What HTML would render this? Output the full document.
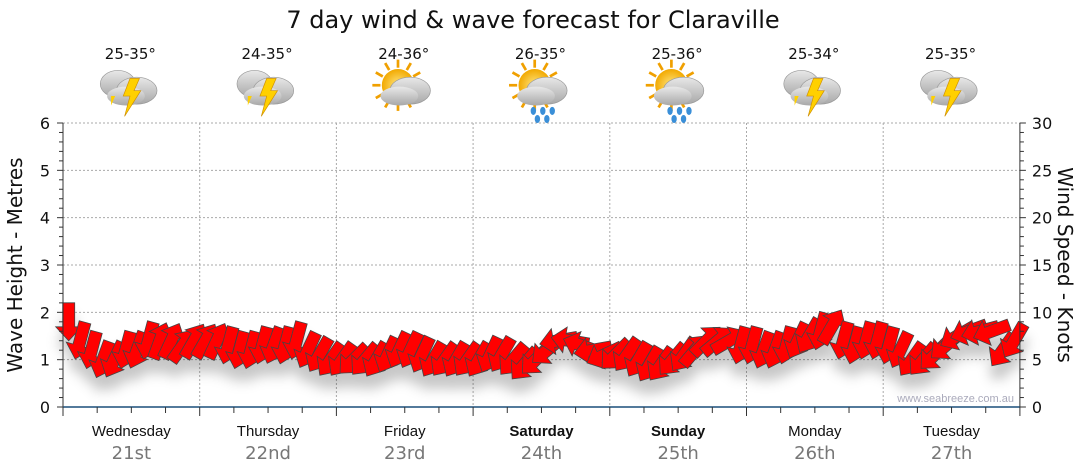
<!DOCTYPE html>
<html><head><meta charset="utf-8"><style>
html,body{margin:0;padding:0;background:#fff;}
svg{display:block;font-family:"DejaVu Sans","Liberation Sans",sans-serif;}
</style></head><body>
<svg id="chart" width="1080" height="475" viewBox="0 0 1080 475">
<defs>
<filter id="sh" x="-20%" y="-50%" width="140%" height="200%"><feDropShadow dx="0" dy="14" stdDeviation="6" flood-color="#000" flood-opacity="0.22"/></filter>
<radialGradient id="sun" cx="50%" cy="50%" r="50%"><stop offset="0" stop-color="#ffe680"/><stop offset="1" stop-color="#f2a900"/></radialGradient>
<linearGradient id="cloud" x1="0" y1="0" x2="0" y2="1"><stop offset="0" stop-color="#e8e8e8"/><stop offset="1" stop-color="#a8a8a8"/></linearGradient>
</defs>
<text x="533" y="28" text-anchor="middle" font-size="24" fill="#111">7 day wind &amp; wave forecast for Claraville</text>
<g id="grid"></g>
<g id="icons"></g>
<g id="arrows" filter="url(#sh)"></g>
<g id="axes"></g>
<text transform="translate(22,265) rotate(-90)" text-anchor="middle" font-size="20" fill="#111">Wave Height - Metres</text>
<text transform="translate(1058,265) rotate(90)" text-anchor="middle" font-size="20" fill="#111">Wind Speed - Knots</text>
<text x="1014" y="402" text-anchor="end" font-size="11" fill="#aab" font-family="Liberation Sans, sans-serif">www.seabreeze.com.au</text>
</svg>
<script>
const days = ["Wednesday","Thursday","Friday","Saturday","Sunday","Monday","Tuesday"];
const dates = ["21st","22nd","23rd","24th","25th","26th","27th"];
const temps = ["25-35°","24-35°","24-36°","26-35°","25-36°","25-34°","25-35°"];
const weather = ["storm","storm","sun","sunrain","sunrain","storm","storm"];
const waveTicks = [0,1,2,3,4,5,6];
const windTicks = [0,5,10,15,20,25,30];
const windSpeed = [9,7,6,5,5,6,6,7,7,7,6.5,7, 7,7,6.5,6,6,6.5,6.5,6.5,7,6,5.5,5, 5,5,5,5,5.5,6,6,5.5,5,5,5,5, 5,5.5,5.5,5,4.5,5,6,7,7,6.5,6,5.5, 5.5,5.5,5,4.5,4.5,5,5.5,6,7,7,7,6.5, 6.5,6,6,6.5,7,7.5,8,8.5,7,6.5,7,7, 6.5,6,5,5,5.5,6.5,7.5,8,8,8,6,7];
const windDir = [180,195,195,200,205,195,200,195,20,25,35,30, 30,25,195,195,195,195,200,195,195,205,210,215, 215,225,220,210,205,205,205,205,210,215,210,215, 210,205,210,220,220,225,230,260,280,290,260,245, 225,215,210,210,215,220,215,40,45,50,60,195, 195,200,200,195,205,210,195,30,195,195,195,195, 195,205,215,220,225,230,240,250,255,250,215,210];
const NS="http://www.w3.org/2000/svg";
const X0=63, DW=136.7, Y0=407, Y6=123;
const xDay=d=>X0+d*DW;
const xHour=h=>X0+h/24*DW;
const yWave=v=>Y0-(Y0-Y6)*v/6;
const yWind=v=>Y0-(Y0-Y6)*v/30;
function mk(tag,attrs,parent,txt){const e=document.createElementNS(NS,tag);for(const k in attrs)e.setAttribute(k,attrs[k]);if(txt!==undefined)e.textContent=txt;parent.appendChild(e);return e;}
const grid=document.getElementById('grid'),axes=document.getElementById('axes'),icons=document.getElementById('icons'),arrows=document.getElementById('arrows');
const X1=xDay(7);
waveTicks.forEach(v=>{if(v>0){const l=mk('line',{x1:X0,x2:X1,y1:yWave(v),y2:yWave(v),stroke:'#aaa','stroke-dasharray':'2,2','stroke-width':1},grid);

}
const t=mk('text',{x:X0-13,y:yWave(v)+6,'text-anchor':'end','font-size':16,fill:'#111'},axes,String(v));

});
windTicks.forEach(v=>{const t=mk('text',{x:X1+12,y:yWind(v)+6,'font-size':16,fill:'#111'},axes,String(v));

});
for(let d=1;d<7;d++){const l=mk('line',{x1:xDay(d),x2:xDay(d),y1:Y6,y2:Y0,stroke:'#aaa','stroke-dasharray':'2,2'},grid);

}
mk('line',{x1:X0,x2:X0,y1:Y6,y2:Y0,stroke:'#333'},axes);
mk('line',{x1:X1,x2:X1,y1:Y6,y2:Y0,stroke:'#333'},axes);
for(let i=0;i<=30;i++){const y=Y0-(Y0-Y6)*i/30;const len=i%5==0?6:4;
mk('line',{x1:X0-len,x2:X0,y1:y,y2:y,stroke:'#333'},axes);
mk('line',{x1:X1,x2:X1+len,y1:y,y2:y,stroke:'#333'},axes);}
mk('line',{x1:X0,x2:X1,y1:Y0,y2:Y0,stroke:'#1a4f7a','stroke-width':1.5},axes);
for(let q=0;q<=28;q++){const x=X0+q*DW/4;mk('line',{x1:x,x2:x,y1:Y0,y2:Y0+(q%4==0?9:6),stroke:'#333'},axes);}
days.forEach((d,i)=>{const cx=xDay(i)+DW/2;const bold=(d==="Saturday"||d==="Sunday");
const t=mk('text',{x:cx,y:436,'text-anchor':'middle','font-size':15,fill:'#111','font-family':'Liberation Sans, sans-serif','font-weight':bold?'bold':'normal'},axes,d);


const t2=mk('text',{x:cx,y:459,'text-anchor':'middle','font-size':18,fill:'#777'},axes,dates[i]);


const t3=mk('text',{x:cx-1,y:59,'text-anchor':'middle','font-size':15,fill:'#111'},icons,temps[i]);


const g=mk('g',{transform:`translate(${cx},92) scale(1.35)`},icons);


const w=weather[i];
if(w!=="storm"){for(let k=0;k<12;k++){const a=k*30*Math.PI/180;mk('line',{x1:-5+Math.cos(a)*13,y1:-5+Math.sin(a)*13,x2:-5+Math.cos(a)*19,y2:-5+Math.sin(a)*19,stroke:'#f0a000','stroke-width':2},g);}
mk('circle',{cx:-5,cy:-5,r:12,fill:'url(#sun)'},g);}
if(w==="storm"){mk('ellipse',{cx:-10,cy:-6,rx:13,ry:10,fill:'url(#cloud)',stroke:'#999','stroke-width':.5},g);}
mk('ellipse',{cx:4,cy:-1,rx:15,ry:10,fill:'url(#cloud)',stroke:'#999','stroke-width':.5},g);
mk('ellipse',{cx:-4,cy:3,rx:14,ry:7,fill:'url(#cloud)'},g);
if(w==="storm"){mk('polygon',{points:'-1,-10 6,-10 2,-1 7,-1 -5,18 -1,3 -6,3',fill:'#ffd000',stroke:'#d09000','stroke-width':.5},g);
mk('polygon',{points:'-15,3 -12,3 -15,10',fill:'#ffd000'},g);}
if(w==="sunrain"){[-6,1,8].forEach(x=>mk('ellipse',{cx:x,cy:14,rx:2,ry:3,fill:'#3a8fd8'},g));[-3,4].forEach(x=>mk('ellipse',{cx:x,cy:20,rx:2,ry:3,fill:'#3a8fd8'},g));}
});
windSpeed.forEach((v,i)=>{const x=xHour(i*2+1),y=yWind(v);
const p=mk('polygon',{points:'0,-19 13,-5 6,-5 6,19 -6,19 -6,-5 -13,-5',fill:'#ff0000',stroke:'#444','stroke-width':0.8,transform:`translate(${x.toFixed(1)},${y.toFixed(1)}) rotate(${windDir[i]})`},arrows);

});
</script>
</body></html>
